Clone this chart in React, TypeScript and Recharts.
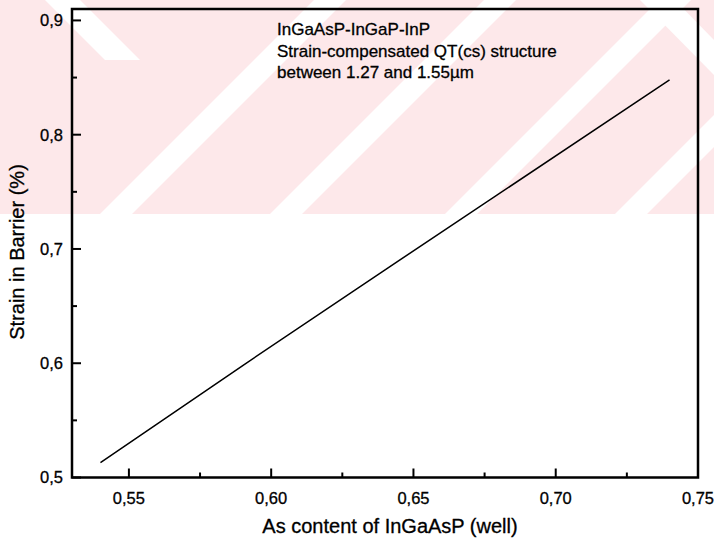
import { LineChart, Line, XAxis, YAxis, ReferenceArea } from "recharts";

// As content of the InGaAsP well vs. strain in the barrier (%)
const asContent = [0.54, 0.59, 0.645, 0.74];
const barrierStrain = [0.513, 0.598, 0.69, 0.848];

const xDomain = [0.53, 0.75];
const yDomain = [0.5, 0.91];

const xTicks = [0.55, 0.575, 0.6, 0.625, 0.65, 0.675, 0.7, 0.725, 0.75];
const xMajor = [0.55, 0.6, 0.65, 0.7, 0.75];
const xLabels = ["0,55", "0,60", "0,65", "0,70", "0,75"];

const yTicks = [0.5, 0.55, 0.6, 0.65, 0.7, 0.75, 0.8, 0.85, 0.9];
const yMajor = [0.5, 0.6, 0.7, 0.8, 0.9];
const yLabels = ["0,5", "0,6", "0,7", "0,8", "0,9"];

const noteLines = [
  "InGaAsP-InGaP-InP",
  "Strain-compensated QT(cs) structure",
  "between 1.27 and 1.55\u00b5m",
];
const xTitle = "As content of InGaAsP (well)";
const yTitle = "Strain in Barrier (%)";

const data = asContent.map((x, i) => ({ x, strain: barrierStrain[i] }));

const FONT = "'Liberation Sans', Arial, sans-serif";
const INK = "#000";
const textInk = { fill: INK, stroke: INK, strokeWidth: 0.3 };

const majorIndex = (v: number, list: number[]) =>
  list.findIndex((m) => Math.abs(m - v) < 1e-6);

function XTick({ x, y, payload }: any) {
  const i = majorIndex(payload.value, xMajor);
  return (
    <g>
      <line x1={x} x2={x} y1={y} y2={y - (i >= 0 ? 9 : 5)} stroke={INK} strokeWidth={2} />
      {i >= 0 && (
        <text x={x} y={y + 26} textAnchor="middle" fontFamily={FONT} fontSize={16.5} {...textInk}>
          {xLabels[i]}
        </text>
      )}
    </g>
  );
}

function YTick({ x, y, payload }: any) {
  const i = majorIndex(payload.value, yMajor);
  return (
    <g>
      <line x1={x} x2={x + (i >= 0 ? 9 : 5)} y1={y} y2={y} stroke={INK} strokeWidth={2} />
      {i >= 0 && (
        <text x={x - 9} y={y} dy="0.36em" textAnchor="end" fontFamily={FONT} fontSize={16.5} {...textInk}>
          {yLabels[i]}
        </text>
      )}
    </g>
  );
}

// faint pink watermark band of the scanned page
function Watermark() {
  const up = [100, 270, 445, 615];
  return (
    <svg width={714} height={547} style={{ position: "absolute", left: 0, top: 0 }}>
      <rect x={0} y={0} width={714} height={214} fill="#fde8ea" />
      {up.map((b) => (
        <polygon key={b} points={`${b},214 ${b + 32},214 ${b + 246},0 ${b + 214},0`} fill="#fff" />
      ))}
      <polygon points="45,0 80,0 140,60 105,60" fill="#fff" />
      <polygon points="640,0 675,0 714,40 714,75" fill="#fff" />
    </svg>
  );
}

export default function App() {
  return (
    <div style={{ position: "absolute", left: 0, top: 0, width: 714, height: 547, background: "#fff" }}>
      <Watermark />
      <div style={{ position: "absolute", left: 0, top: 0 }}>
        <LineChart width={714} height={547} data={data} margin={{ top: 9, right: 16, bottom: 0, left: 0 }}>
          <XAxis
            dataKey="x"
            type="number"
            domain={xDomain}
            ticks={xTicks}
            interval={0}
            height={69.5}
            tickSize={0}
            tickMargin={0}
            tickLine={false}
            tick={<XTick />}
            axisLine={false}
            allowDataOverflow
          />
          <YAxis
            type="number"
            domain={yDomain}
            ticks={yTicks}
            interval={0}
            width={72}
            tickSize={0}
            tickMargin={0}
            tickLine={false}
            tick={<YTick />}
            axisLine={false}
            allowDataOverflow
          />
          <ReferenceArea
            x1={xDomain[0]}
            x2={xDomain[1]}
            y1={yDomain[0]}
            y2={yDomain[1]}
            fill="none"
            fillOpacity={0}
            stroke={INK}
            strokeWidth={2.5}
            strokeOpacity={1}
            ifOverflow="visible"
          />
          <Line
            dataKey="strain"
            type="linear"
            stroke={INK}
            strokeWidth={1.5}
            dot={false}
            activeDot={false}
            isAnimationActive={false}
          />
        </LineChart>
      </div>
      <svg width={714} height={547} style={{ position: "absolute", left: 0, top: 0, pointerEvents: "none" }}>
        {noteLines.map((t, i) => (
          <text key={t} x={277} y={35 + i * 21.5} fontFamily={FONT} fontSize={17} {...textInk}>
            {t}
          </text>
        ))}
        <text x={390} y={533} textAnchor="middle" fontFamily={FONT} fontSize={20} {...textInk}>
          {xTitle}
        </text>
        <text
          x={0}
          y={0}
          transform="translate(24,252) rotate(-90)"
          textAnchor="middle"
          fontFamily={FONT}
          fontSize={20}
          {...textInk}
        >
          {yTitle}
        </text>
      </svg>
    </div>
  );
}
